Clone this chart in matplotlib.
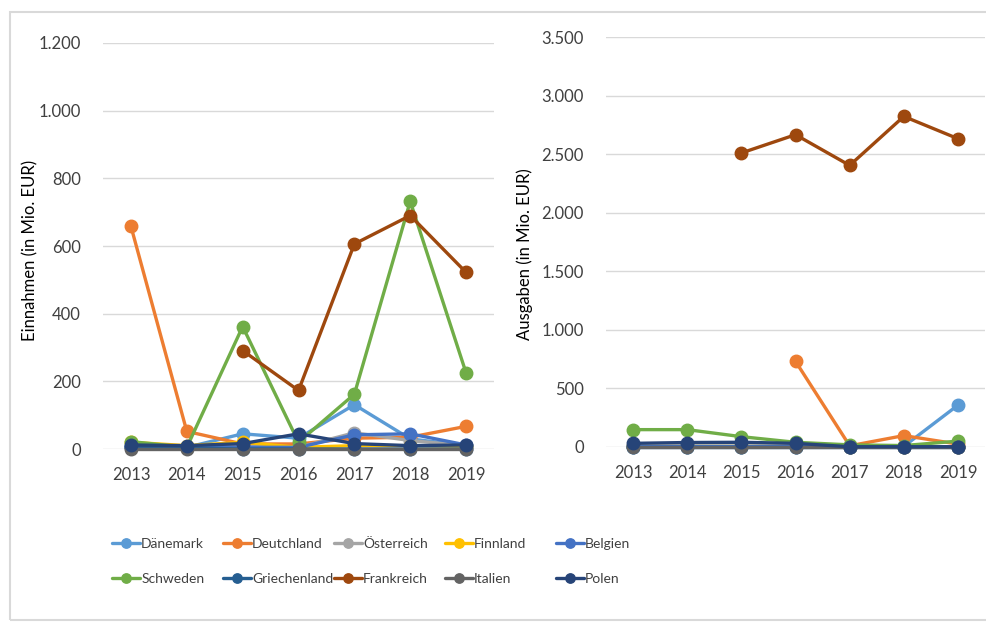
import numpy as np
import matplotlib
matplotlib.use('Agg')
import matplotlib.pyplot as plt
from matplotlib.ticker import FuncFormatter, MultipleLocator
from matplotlib.patches import Rectangle

plt.rcParams['font.family'] = ['Lato', 'DejaVu Sans']

years = [2013, 2014, 2015, 2016, 2017, 2018, 2019]
countries = ['Dänemark', 'Deutchland', 'Österreich', 'Finnland', 'Belgien',
             'Schweden', 'Griechenland', 'Frankreich', 'Italien', 'Polen']
colors = ['#5B9BD5', '#ED7D31', '#A5A5A5', '#FFC000', '#4472C4',
          '#70AD47', '#255E91', '#9E480E', '#636363', '#264478']

nan = np.nan

# Einnahmen (in Mio. EUR)
einnahmen = {
    'Dänemark':     [10, 5, 45, 32, 131, 30, 10],
    'Deutchland':   [658, 52, 15, 15, 32, 35, 67],
    'Österreich':   [5, 5, 8, 5, 48, 25, 10],
    'Finnland':     [20, 10, 20, 5, 10, 10, 8],
    'Belgien':      [5, 5, 5, 5, 42, 45, 12],
    'Schweden':     [22, 5, 362, 20, 162, 732, 225],
    'Griechenland': [5, 3, 0, 0, 0, 0, 0],
    'Frankreich':   [nan, nan, 291, 173, 606, 690, 522],
    'Italien':      [0, 0, 0, 0, 0, 0, 0],
    'Polen':        [12, 10, 16, 45, 16, 10, 12],
}

# Ausgaben (in Mio. EUR)
ausgaben = {
    'Dänemark':     [0, 0, 0, 0, 0, 5, 357],
    'Deutchland':   [nan, nan, nan, 731, 10, 97, 25],
    'Österreich':   [5, 5, 5, 5, 0, 0, 0],
    'Finnland':     [5, 5, 5, 5, 0, 0, 0],
    'Belgien':      [5, 5, 5, 5, 0, 0, 0],
    'Schweden':     [148, 148, 88, 40, 18, 12, 50],
    'Griechenland': [0, 0, 0, 0, 0, 0, 0],
    'Frankreich':   [nan, nan, 2510, 2666, 2404, 2822, 2632],
    'Italien':      [0, 0, 0, 0, 0, 0, 0],
    'Polen':        [31, 38, 40, 31, 2, 2, 2],
}

fig = plt.figure(figsize=(9.87, 6.22), dpi=100)
ax1 = fig.add_axes([0.1044, 0.2781, 0.3961, 0.6528])
ax2 = fig.add_axes([0.6140, 0.2814, 0.3840, 0.6591])

def thousands(v, pos):
    return f'{int(v):,}'.replace(',', '.')

txt = '#404040'
for ax, data, top, step, label in [(ax1, einnahmen, 1200, 200, 'Einnahmen (in Mio. EUR)'),
                                   (ax2, ausgaben, 3500, 500, 'Ausgaben (in Mio. EUR)')]:
    for name, col in zip(countries, colors):
        ax.plot(years, data[name], color=col, lw=2.4, marker='o', ms=9,
                label=name, solid_capstyle='round')
    ax.set_xlim(2012.5, 2019.5)
    ax.set_ylim(0, top)
    ax.yaxis.set_major_locator(MultipleLocator(step))
    ax.yaxis.set_major_formatter(FuncFormatter(thousands))
    ax.set_xticks(years)
    ax.grid(axis='y', color='#D9D9D9', lw=1)
    ax.set_axisbelow(True)
    for s in ax.spines.values():
        s.set_visible(False)
    ax.tick_params(length=0, labelsize=12, colors=txt)
    ax.tick_params(axis='y', pad=16)
    ax.tick_params(axis='x', pad=13)
    ax.set_ylabel(label, fontsize=12, color='black')
    for l in ax.lines:
        l.set_clip_on(False)

ax1.yaxis.set_label_coords(-0.166, 0.49)
ax2.yaxis.set_label_coords(-0.193, 0.47)

# legend: one column of two entries per slot, fixed spacing like Excel
handles, labels = ax1.get_legend_handles_labels()
col_x = [112, 223, 334, 445, 556]
for i, x in enumerate(col_x):
    fig.legend([handles[i], handles[i + 5]], [labels[i], labels[i + 5]],
               loc='center left', bbox_to_anchor=(x / 987, 0.098), frameon=False,
               fontsize=10, handlelength=2.0, handletextpad=0.1, labelspacing=1.65,
               borderpad=0, borderaxespad=0, markerscale=0.75, labelcolor=txt)

fig.patches.append(Rectangle((10 / 987, 2 / 622), 1.0, 1 - 14 / 622,
                             transform=fig.transFigure, fill=False,
                             edgecolor='#D9D9D9', lw=1.5))

fig.savefig('out.png', dpi=100)
